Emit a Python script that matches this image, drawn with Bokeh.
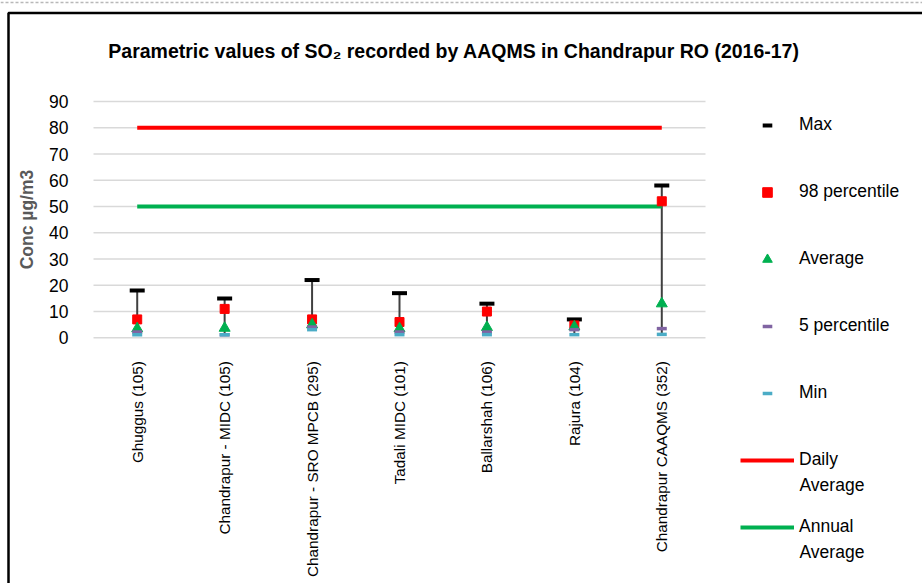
from math import pi
from bokeh.plotting import figure
from bokeh.models import Range1d, Legend, Label, BoxAnnotation, FixedTicker, Span
from bokeh.embed import file_html
from bokeh.resources import INLINE

stations = ["Ghuggus  (105)", "Chandrapur - MIDC  (105)", "Chandrapur - SRO MPCB  (295)",
            "Tadali MIDC  (101)", "Ballarshah  (106)", "Rajura  (104)", "Chandrapur CAAQMS  (352)"]
max_vals = [18, 15, 22, 17, 13, 7, 58]
p98_vals = [7, 11, 7, 6, 10, 4.7, 52]
avg_vals = [3.5, 3.7, 5.0, 3.5, 4.0, 4.2, 13]
p5_vals = [2.2, 1.2, 4.1, 2.2, 2.2, 3.1, 3.5]
min_vals = [1.2, 1.2, 3.1, 1.2, 1.2, 1.2, 1.3]
daily_std = [80] * 7
annual_std = [50] * 7
y_ticks = [0, 10, 20, 30, 40, 50, 60, 70, 80, 90]
title_text = "Parametric values of SO\u2082 recorded by AAQMS in Chandrapur RO (2016-17)"

x_pos = list(range(1, len(stations) + 1))

FONT = "Liberation Sans"
W, H = 922, 583
# plot-area geometry in screen px
PL, PR, PT, PB = 93, 705, 101, 337.3
SX = (PR - PL) / len(stations)
SY = (PB - PT) / 90.0

def dx(px):
    return 0.5 + (px - PL) / SX

def dy(py):
    return (PB - py) / SY

p = figure(width=W, height=H, x_range=Range1d(dx(0), dx(W)), y_range=Range1d(dy(H), dy(0)),
           output_backend="svg", toolbar_location=None,
           min_border=0, min_border_left=0, min_border_right=0, min_border_top=0, min_border_bottom=0)
p.outline_line_color = None
p.background_fill_color = "white"
p.border_fill_color = "white"
p.grid.visible = False

# horizontal gridlines
p.segment(x0=[x_pos[0] - 0.5] * len(y_ticks), y0=y_ticks, x1=[x_pos[-1] + 0.5] * len(y_ticks), y1=y_ticks,
          line_color="#d9d9d9", line_width=1.6)

p.yaxis.fixed_location = x_pos[0] - 0.5
p.yaxis.bounds = (y_ticks[0], y_ticks[-1])
p.yaxis.ticker = FixedTicker(ticks=y_ticks)
p.yaxis.axis_line_color = None
p.yaxis.major_tick_line_color = None
p.yaxis.minor_tick_line_color = None
p.yaxis.major_label_standoff = 19
p.yaxis.major_label_text_font = FONT
p.yaxis.major_label_text_font_size = "17.5px"
p.yaxis.major_label_text_color = "black"
p.yaxis.axis_label = "Conc \u00b5g/m3"
p.yaxis.axis_label_text_font = FONT
p.yaxis.axis_label_text_font_style = "bold"
p.yaxis.axis_label_text_font_size = "17.5px"
p.yaxis.axis_label_text_color = "#595959"
p.yaxis.axis_label_standoff = 9

p.xaxis.fixed_location = 0
p.xaxis.ticker = FixedTicker(ticks=x_pos)
p.xaxis.major_label_overrides = {x: s for x, s in zip(x_pos, stations)}
p.xaxis.axis_line_color = None
p.xaxis.major_tick_line_color = None
p.xaxis.minor_tick_line_color = None
p.xaxis.major_label_orientation = pi / 2
p.xaxis.major_label_standoff = 13
p.xaxis.major_label_text_font = FONT
p.xaxis.major_label_text_font_size = "15.3px"
p.xaxis.major_label_text_color = "black"

p.segment(x0=x_pos, y0=min_vals, x1=x_pos, y1=max_vals, line_color="#404040", line_width=2)
r_daily = p.line(x_pos, daily_std, line_color="#FF0000", line_width=4)
r_annual = p.line(x_pos, annual_std, line_color="#00B050", line_width=4)
r_max = p.scatter(x_pos, max_vals, marker="dash", size=15, line_color="black", line_width=4)
r_p98 = p.scatter(x_pos, p98_vals, marker="square", size=9, fill_color="#FF0000", line_color="#FF0000")
r_avg = p.scatter(x_pos, avg_vals, marker="triangle", size=11, fill_color="#00B050", line_color="#00B050")
r_p5 = p.scatter(x_pos, p5_vals, marker="dash", size=10, line_color="#8064A2", line_width=3.5)
r_min = p.scatter(x_pos, min_vals, marker="dash", size=10, line_color="#4BACC6", line_width=3.5)

item_h, spacing = 24, 43
leg_left, leg_first_center = 740, 124.5
leg_h = 7 * item_h + 6 * spacing
legend = Legend(items=[("Max", [r_max]), ("98 percentile", [r_p98]), ("Average", [r_avg]),
                       ("5 percentile", [r_p5]), ("Min", [r_min]),
                       ("Daily", [r_daily]), ("Annual", [r_annual])],
                location=(leg_left, H - (leg_first_center - item_h / 2 + leg_h)), orientation="vertical",
                glyph_width=54, glyph_height=item_h, label_height=item_h, spacing=spacing,
                padding=0, margin=0, label_standoff=5, border_line_color=None,
                background_fill_alpha=0, label_text_font=FONT, label_text_font_size="17.5px",
                label_text_color="black")
p.add_layout(legend, "center")

for py in (484, 551):
    p.add_layout(Label(x=dx(799), y=dy(py), text="Average", text_align="left", text_baseline="middle",
                       text_font=FONT, text_font_size="17.5px", text_color="black"))

p.add_layout(Label(x=dx(453.5), y=dy(50), text=title_text, text_align="center",
                   text_baseline="alphabetic", text_font=FONT, text_font_style="bold",
                   text_font_size="19.5px", text_color="black"))

p.add_layout(BoxAnnotation(left=dx(8), right=dx(3000), top=dy(12.5), bottom=dy(3000),
                           fill_alpha=0, line_color="black", line_alpha=1.0, line_width=2.5))
p.add_layout(Span(location=dy(2), dimension="width", line_color="#b8b8b8", line_width=1.5,
                  line_dash="3 2"))

open("out.html", "w").write(file_html(p, INLINE))
